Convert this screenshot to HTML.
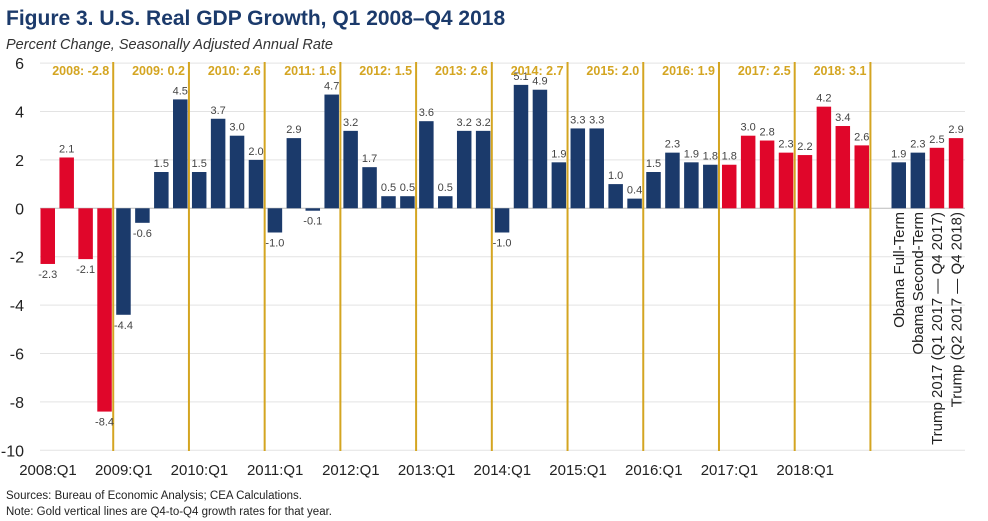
<!DOCTYPE html>
<html><head><meta charset="utf-8"><style>
body{margin:0;background:#fff;font-family:"Liberation Sans",sans-serif;}
#wrap{position:relative;width:988px;height:521px;overflow:hidden}
</style></head><body>
<div id="wrap">
<svg id="chart" width="988" height="521">
<text x="6" y="25" font-size="21" font-weight="bold" fill="#1b3a6b">Figure 3. U.S. Real GDP Growth, Q1 2008–Q4 2018</text>
<text x="6" y="49" font-size="14.5" font-style="italic" fill="#333">Percent Change, Seasonally Adjusted Annual Rate</text>
<text x="6" y="499" font-size="11.5" fill="#222">Sources: Bureau of Economic Analysis; CEA Calculations.</text>
<text x="6" y="515" font-size="11.5" fill="#222">Note: Gold vertical lines are Q4-to-Q4 growth rates for that year.</text>
<g id="grid"></g><g id="bars"></g><g id="lines"></g><g id="labels"></g>
</svg>
</div>
<script>
const years=["2008","2009","2010","2011","2012","2013","2014","2015","2016","2017","2018"];
const quarterly=[-2.3,2.1,-2.1,-8.4,-4.4,-0.6,1.5,4.5,1.5,3.7,3.0,2.0,-1.0,2.9,-0.1,4.7,3.2,1.7,0.5,0.5,3.6,0.5,3.2,3.2,-1.0,5.1,4.9,1.9,3.3,3.3,1.0,0.4,1.5,2.3,1.9,1.8,1.8,3.0,2.8,2.3,2.2,4.2,3.4,2.6];
const annual=[-2.8,0.2,2.6,1.6,1.5,2.6,2.7,2.0,1.9,2.5,3.1];
const summaryLabels=["Obama Full-Term","Obama Second-Term","Trump 2017 (Q1 2017 — Q4 2017)","Trump (Q2 2017 — Q4 2018)"];
const summaryValues=[1.9,2.3,2.5,2.9];
const summaryRed=[false,false,true,true];
const yTicks=[6,4,2,0,-2,-4,-6,-8,-10];
const NS="http://www.w3.org/2000/svg";
const BLUE="#1b3a6b",RED="#e0062a",GOLD="#d4a521";
function y(v){return 208.3-v*24.2;}
const x0=37.5,slot=18.93;
function qx(i){return x0+i*slot;}
function sx(i){return 889.5+i*19.1;}
function mk(g,tag,attrs,txt){const e=document.createElementNS(NS,tag);for(const k in attrs)e.setAttribute(k,attrs[k]);if(txt!==undefined)e.textContent=txt;document.getElementById(g).appendChild(e);return e;}
yTicks.forEach(t=>{
  const l=mk("grid","line",{x1:40,x2:965,y1:y(t),y2:y(t),stroke:t===0?"#bbb":"#e3e3e3","stroke-width":1});
  
  
  const tx=mk("grid","text",{x:24,y:y(t)+6,"font-size":16,"text-anchor":"end",fill:"#222"},t);
  
  
});
quarterly.forEach((v,i)=>{
  const red=(i<4||i>=36);
  const bx=qx(i)+3;
  const r=mk("bars","rect",{x:bx,y:Math.min(y(v),y(0)),width:14.5,height:Math.abs(y(v)-y(0)),fill:red?RED:BLUE});
  
  
  const ty=v>=0?y(v)-5:y(v)+14;
  const t=mk("labels","text",{x:bx+7.25,y:ty,"font-size":11,"text-anchor":"middle",fill:"#444"},v.toFixed(1));
  
  
});
years.forEach((yr,k)=>{
  const lx=qx(4*(k+1));
  const l=mk("lines","line",{x1:lx,x2:lx,y1:62,y2:451,stroke:GOLD,"stroke-width":2});
  
  
  const t=mk("labels","text",{x:lx-4,y:75,"font-size":12.5,"font-weight":"bold","text-anchor":"end",fill:GOLD},yr+": "+annual[k].toFixed(1));
  
  
  const xl=mk("labels","text",{x:qx(4*k)+10.5,y:475,"font-size":15,"text-anchor":"middle",fill:"#222"},yr+":Q1");
  
  
});
summaryValues.forEach((v,i)=>{
  const bx=sx(i)+2;
  const r=mk("bars","rect",{x:bx,y:y(v),width:14.5,height:y(0)-y(v),fill:summaryRed[i]?RED:BLUE});
  
  
  const t=mk("labels","text",{x:bx+7.25,y:y(v)-5,"font-size":11,"text-anchor":"middle",fill:"#444"},v.toFixed(1));
  
  
  const cx=bx+12.5;
  const s=mk("labels","text",{x:cx,y:212,"font-size":15,"text-anchor":"end",fill:"#222",transform:"rotate(-90 "+cx+" 212)"},summaryLabels[i]);
  
  
});
</script>
</body></html>
